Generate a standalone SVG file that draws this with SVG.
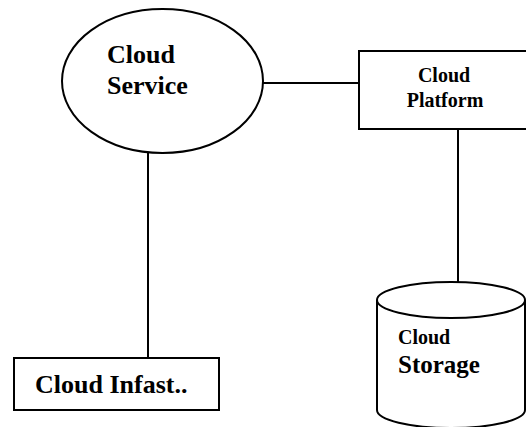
<svg xmlns="http://www.w3.org/2000/svg" width="526" height="427" viewBox="0 0 526 427">
<style>
.shape{fill:#fff;stroke:#000;stroke-width:2}
.edge{fill:none;stroke:#000;stroke-width:2}
text{font-family:"Liberation Serif","Times New Roman",serif;font-weight:bold;fill:#000}
</style>
<rect width="526" height="427" fill="#fff"/>
<g id="connectors">
<line class="edge" x1="263" y1="83" x2="359" y2="83"/>
<line class="edge" x1="148" y1="153" x2="148" y2="358"/>
<line class="edge" x1="458" y1="129" x2="458" y2="283"/>
</g>
<g id="cloud-service">
<ellipse class="shape" cx="162.5" cy="81" rx="100.5" ry="72"/>
<text x="107" y="63" font-size="26">Cloud</text>
<text x="107" y="94" font-size="26">Service</text>
</g>
<g id="cloud-platform">
<rect class="shape" x="359" y="51" width="180" height="78"/>
<text x="444" y="82" font-size="20" text-anchor="middle">Cloud</text>
<text x="445" y="107" font-size="20" text-anchor="middle">Platform</text>
</g>
<g id="cloud-storage">
<path class="shape" d="M377,300 L377,410 A74,18 0 0 0 525,410 L525,300 A74,18 0 0 0 377,300 Z"/>
<path class="edge" d="M377,300 A74,18 0 0 0 525,300"/>
<text x="398" y="344" font-size="20">Cloud</text>
<text x="398" y="373" font-size="25">Storage</text>
</g>
<g id="cloud-infrastructure">
<rect class="shape" x="14" y="358" width="205" height="52"/>
<text x="35" y="393" font-size="26">Cloud Infast..</text>
</g>
</svg>
